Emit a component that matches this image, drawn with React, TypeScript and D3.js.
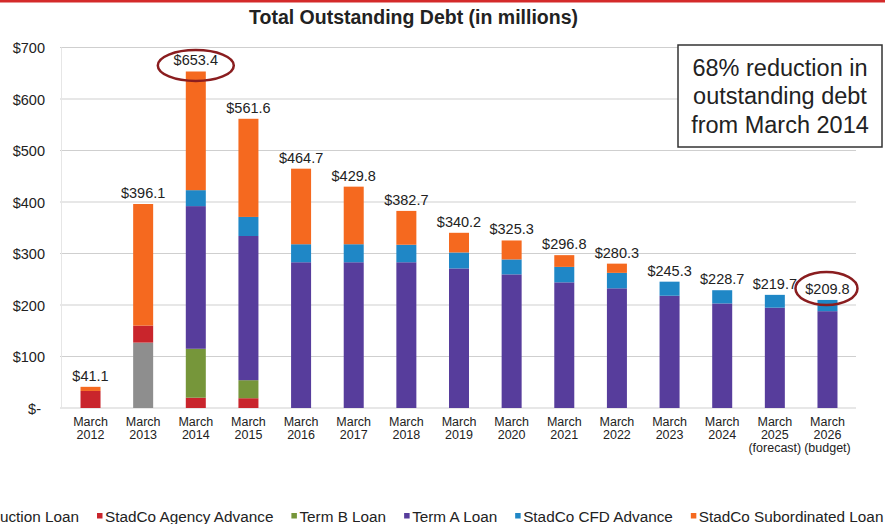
import React, { useEffect, useRef } from "react";
import * as d3 from "d3";

const categories = ["2012","2013","2014","2015","2016","2017","2018","2019","2020","2021","2022","2023","2024","2025","2026"];
const labelLine1 = ["March","March","March","March","March","March","March","March","March","March","March","March","March","March","March"];
const labelLine2 = ["2012","2013","2014","2015","2016","2017","2018","2019","2020","2021","2022","2023","2024","2025","2026"];
const labelLine3 = ["","","","","","","","","","","","","","(forecast)","(budget)"];

const construction = [0,127,0,0,0,0,0,0,0,0,0,0,0,0,0];
const agencyAdvance = [33.1,33,20,19,0,0,0,0,0,0,0,0,0,0,0];
const termB = [0,0,95,35,0,0,0,0,0,0,0,0,0,0,0];
const termA = [0,0,277,280,283,283,283,271,259.5,244,232.4,218,203,194.8,188];
const cfdAdvance = [0,0,31,37,35,35,34,31,29,30,30,27.3,25.7,24.9,21.8];
const subordinated = [8,236.1,230.4,190.6,146.7,111.8,65.7,38.2,36.8,22.8,17.9,0,0,0,0];
const totals = [41.1,396.1,653.4,561.6,464.7,429.8,382.7,340.2,325.3,296.8,280.3,245.3,228.7,219.7,209.8];

const seriesNames = ["Construction Loan","StadCo Agency Advance","Term B Loan","Term A Loan","StadCo CFD Advance","StadCo Subordinated Loan"];
const seriesColors = ["#8e8e8e","#c9252c","#76963a","#573d9c","#1f87c6","#f5691f"];
const yTicks = [0,100,200,300,400,500,600,700];
const highlighted = ["2014","2026"];

const W = 885, H = 524;
const FONT = "Arial, 'Liberation Sans', Helvetica, sans-serif";

export default function App() {
  const ref = useRef<SVGSVGElement>(null);
  useEffect(() => {
    const svg = d3.select(ref.current);
    svg.selectAll("*").remove();
    const seriesData = [construction, agencyAdvance, termB, termA, cfdAdvance, subordinated];
    const rows = categories.map((c, i) => {
      const r: any = { cat: c };
      seriesNames.forEach((n, k) => (r[n] = seriesData[k][i]));
      return r;
    });
    const stacked = d3.stack().keys(seriesNames)(rows);

    const x = d3.scaleBand().domain(categories).range([64.2, 853.8]).paddingInner(0.62).paddingOuter(0.31);
    const y = d3.scaleLinear().domain([0, 700]).range([408, 47.5]);

    svg.append("rect").attr("width", W).attr("height", H).attr("fill", "#fff");
    svg.append("rect").attr("x", 0).attr("y", 0).attr("width", W).attr("height", 2.5).attr("fill", "#d42a2a");

    // title
    svg.append("text").attr("x", 413.5).attr("y", 24).attr("text-anchor", "middle")
      .attr("font-family", FONT).attr("font-weight", "bold").attr("font-size", 19.5).attr("fill", "#222")
      .text("Total Outstanding Debt (in millions)");

    // grid
    svg.append("g").selectAll("line").data(yTicks).join("line")
      .attr("x1", 60).attr("x2", 856).attr("y1", d => y(d)).attr("y2", d => y(d))
      .attr("stroke", "#cfcfcf").attr("stroke-width", 1.2);
    svg.append("line").attr("x1", 61.5).attr("x2", 61.5).attr("y1", y(700)).attr("y2", y(0))
      .attr("stroke", "#e6e6e6").attr("stroke-width", 1);

    // y labels
    svg.append("g").selectAll("text").data(yTicks).join("text")
      .attr("x", d => (d === 0 ? 41 : 45)).attr("y", d => y(d) + 5.5).attr("text-anchor", "end")
      .attr("font-family", FONT).attr("font-size", 14.5).attr("fill", "#222")
      .text(d => (d === 0 ? "$-" : "$" + d));

    // bars
    svg.append("g").selectAll("g").data(stacked).join("g")
      .attr("fill", (_d, i) => seriesColors[i])
      .selectAll("rect").data(d => d.filter(s => s[1] - s[0] > 0)).join("rect")
      .attr("x", (d: any) => x(d.data.cat)!)
      .attr("width", x.bandwidth())
      .attr("y", d => y(d[1]))
      .attr("height", d => y(d[0]) - y(d[1]));

    // value labels
    svg.append("g").selectAll("text").data(categories).join("text")
      .attr("x", c => x(c)! + x.bandwidth() / 2).attr("y", (_c, i) => y(totals[i]) - 6)
      .attr("text-anchor", "middle").attr("font-family", FONT).attr("font-size", 14.5).attr("fill", "#222")
      .text((_c, i) => "$" + totals[i].toFixed(1));

    // x labels
    const xl = svg.append("g").selectAll("text").data(categories).join("text")
      .attr("text-anchor", "middle").attr("font-family", FONT).attr("font-size", 12.5).attr("fill", "#222");
    [labelLine1, labelLine2, labelLine3].forEach((arr, li) => {
      xl.append("tspan").attr("x", c => x(c)! + x.bandwidth() / 2).attr("y", 426 + li * 13)
        .text((_c, i) => arr[i]);
    });

    // highlight ellipses
    svg.append("g").selectAll("ellipse").data(highlighted).join("ellipse")
      .attr("cx", c => x(c)! + x.bandwidth() / 2 + (c === "2026" ? -1 : 0))
      .attr("cy", c => y(totals[categories.indexOf(c)]) - (c === "2026" ? 11.5 : 6))
      .attr("rx", c => (c === "2026" ? 31 : 38)).attr("ry", c => (c === "2026" ? 16.5 : 15.5))
      .attr("fill", "none").attr("stroke", "#8a1d1f").attr("stroke-width", 2.5);

    // annotation box
    svg.append("rect").attr("x", 678).attr("y", 45).attr("width", 204).attr("height", 102)
      .attr("fill", "#fff").attr("stroke", "#333").attr("stroke-width", 1.5);
    const ann = ["68% reduction in", "outstanding debt", "from March 2014"];
    svg.append("g").selectAll("text").data(ann).join("text")
      .attr("x", 780).attr("y", (_d, i) => 75.5 + i * 28.5).attr("text-anchor", "middle")
      .attr("font-family", FONT).attr("font-size", 23.5).attr("fill", "#222").text(d => d);

    // legend
    const lg = svg.append("g");
    const LFS = 15.3;
    const widths: number[] = seriesNames.map(n => {
      const t = lg.append("text").attr("font-family", FONT).attr("font-size", LFS).text(n);
      const w = (t.node() as SVGTextElement).getComputedTextLength();
      t.remove();
      return w;
    });
    const markerW = 5.5, markerGap = 2.5, itemGap = 18;
    let startX = 97 - itemGap - widths[0] - markerGap - markerW;
    seriesNames.forEach((n, i) => {
      lg.append("rect").attr("x", startX).attr("y", 513).attr("width", markerW).attr("height", markerW)
        .attr("fill", seriesColors[i]);
      lg.append("text").attr("x", startX + markerW + markerGap).attr("y", 521.5)
        .attr("font-family", FONT).attr("font-size", LFS).attr("fill", "#222").text(n);
      startX += markerW + markerGap + widths[i] + itemGap;
    });
  }, []);
  return (
    <svg ref={ref} width={W} height={H} style={{ position: "absolute", left: 0, top: 0, display: "block" }} />
  );
}
